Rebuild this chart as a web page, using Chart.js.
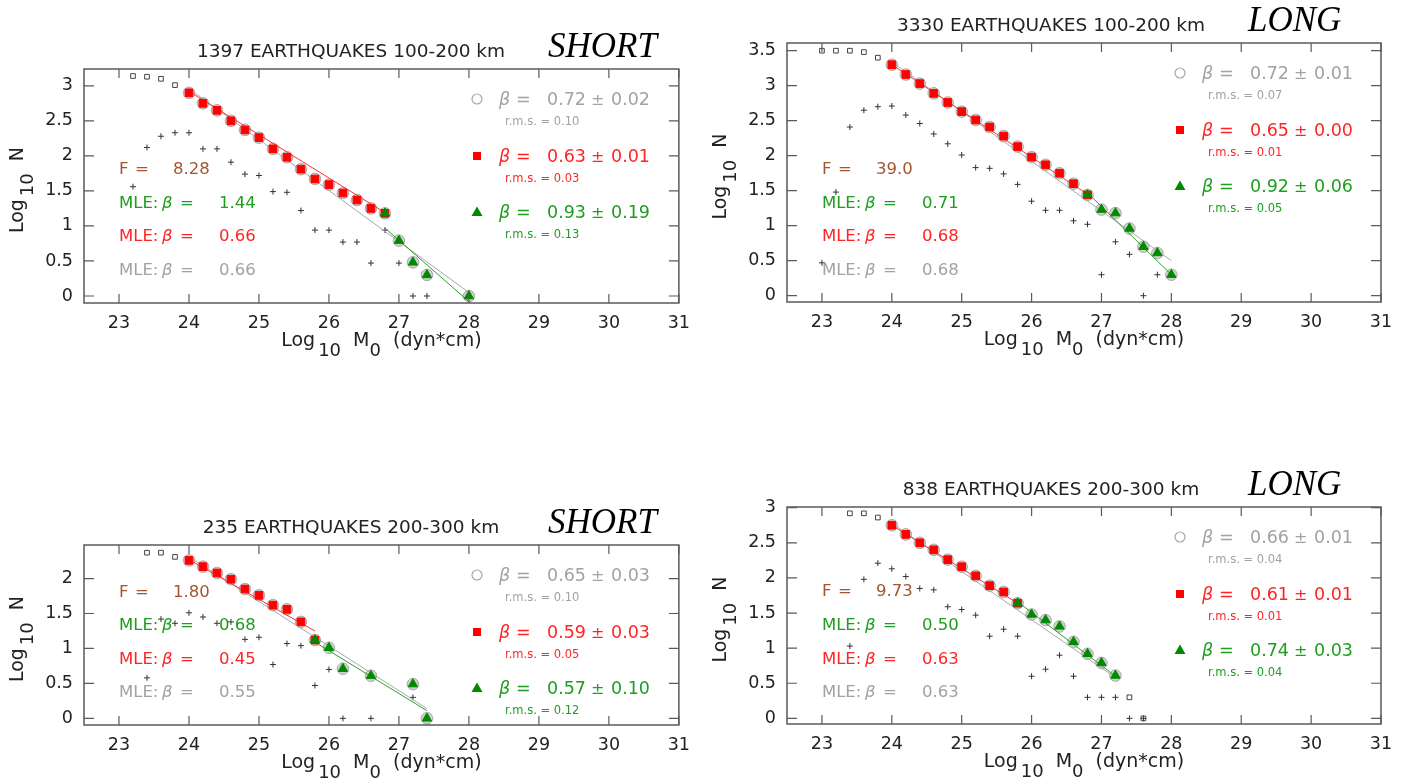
<!DOCTYPE html>
<html>
<head>
<meta charset="utf-8">
<script src="https://cdn.jsdelivr.net/npm/chart.js@4.4.1/dist/chart.umd.min.js"></script>
<style>
html, body { margin: 0; padding: 0; background: #fff; }
#wrap { position: relative; width: 1406px; height: 778px; overflow: hidden; }
#wrap canvas { position: absolute; }
</style>
</head>
<body>
<div id="wrap">
  <canvas id="p1" width="700" height="389" style="left:0;top:0"></canvas>
  <canvas id="p2" width="706" height="389" style="left:700px;top:0"></canvas>
  <canvas id="p3" width="700" height="389" style="left:0;top:389px"></canvas>
  <canvas id="p4" width="706" height="389" style="left:700px;top:389px"></canvas>
</div>
<script>
// ---- data ----
const xTicks = [23, 24, 25, 26, 27, 28, 29, 30, 31];

// 1397 earthquakes, 100-200 km, SHORT
const p1OpenX = [23.2, 23.4, 23.6, 23.8];
const p1OpenY = [3.14, 3.13, 3.10, 3.01];
const p1RedX = [24.0, 24.2, 24.4, 24.6, 24.8, 25.0, 25.2, 25.4, 25.6, 25.8, 26.0, 26.2, 26.4, 26.6, 26.8];
const p1RedY = [2.90, 2.75, 2.65, 2.50, 2.37, 2.26, 2.10, 1.98, 1.81, 1.67, 1.59, 1.47, 1.37, 1.25, 1.18];
const p1GreenX = [26.8, 27.0, 27.2, 27.4, 28.0];
const p1GreenY = [1.18, 0.79, 0.48, 0.30, 0.0];
const p1PlusX = [23.2, 23.4, 23.6, 23.8, 24.0, 24.2, 24.4, 24.6, 24.8, 25.0, 25.2, 25.4, 25.6, 25.8, 26.0, 26.2, 26.4, 26.6, 26.8, 27.0, 27.2, 27.4];
const p1PlusY = [1.56, 2.12, 2.28, 2.33, 2.33, 2.10, 2.10, 1.91, 1.74, 1.72, 1.49, 1.48, 1.22, 0.94, 0.94, 0.77, 0.77, 0.47, 0.94, 0.47, 0.0, 0.0];
const p1FitAllX = [24.0, 28.0], p1FitAllY = [2.96, 0.05];
const p1FitRedX = [24.0, 26.8], p1FitRedY = [2.92, 1.19];
const p1FitGreenX = [26.8, 28.0], p1FitGreenY = [0.97, -0.08];

// 3330 earthquakes, 100-200 km, LONG
const p2OpenX = [23.0, 23.2, 23.4, 23.6, 23.8];
const p2OpenY = [3.50, 3.50, 3.50, 3.48, 3.40];
const p2RedX = [24.0, 24.2, 24.4, 24.6, 24.8, 25.0, 25.2, 25.4, 25.6, 25.8, 26.0, 26.2, 26.4, 26.6, 26.8];
const p2RedY = [3.30, 3.16, 3.03, 2.89, 2.76, 2.63, 2.51, 2.41, 2.28, 2.13, 1.98, 1.87, 1.75, 1.60, 1.44];
const p2GreenX = [26.8, 27.0, 27.2, 27.4, 27.6, 27.8, 28.0];
const p2GreenY = [1.44, 1.23, 1.18, 0.96, 0.70, 0.61, 0.30];
const p2PlusX = [23.0, 23.2, 23.4, 23.6, 23.8, 24.0, 24.2, 24.4, 24.6, 24.8, 25.0, 25.2, 25.4, 25.6, 25.8, 26.0, 26.2, 26.4, 26.6, 26.8, 27.0, 27.2, 27.4, 27.6, 27.8];
const p2PlusY = [0.47, 1.48, 2.41, 2.65, 2.70, 2.71, 2.58, 2.46, 2.31, 2.17, 2.01, 1.83, 1.82, 1.74, 1.59, 1.35, 1.22, 1.22, 1.07, 1.02, 0.30, 0.77, 0.59, 0.0, 0.30];
const p2FitAllX = [24.0, 28.0], p2FitAllY = [3.34, 0.50];
const p2FitRedX = [24.0, 26.8], p2FitRedY = [3.30, 1.45];
const p2FitGreenX = [26.8, 28.0], p2FitGreenY = [1.47, 0.30];

// 235 earthquakes, 200-300 km, SHORT
const p3OpenX = [23.4, 23.6, 23.8];
const p3OpenY = [2.37, 2.37, 2.31];
const p3RedX = [24.0, 24.2, 24.4, 24.6, 24.8, 25.0, 25.2, 25.4, 25.6, 25.8];
const p3RedY = [2.26, 2.17, 2.08, 1.99, 1.85, 1.76, 1.62, 1.56, 1.38, 1.12];
const p3GreenX = [25.8, 26.0, 26.2, 26.6, 27.2, 27.4];
const p3GreenY = [1.12, 1.01, 0.71, 0.61, 0.49, 0.0];
const p3PlusX = [23.4, 23.6, 23.8, 24.0, 24.2, 24.4, 24.6, 24.8, 25.0, 25.2, 25.4, 25.6, 25.8, 26.0, 26.2, 26.6, 27.2];
const p3PlusY = [0.58, 1.42, 1.36, 1.51, 1.45, 1.36, 1.38, 1.13, 1.16, 0.77, 1.07, 1.04, 0.47, 0.70, 0.0, 0.0, 0.30];
const p3FitAllX = [24.0, 27.4], p3FitAllY = [2.31, 0.14];
const p3FitRedX = [24.0, 25.8], p3FitRedY = [2.27, 1.25];
const p3FitGreenX = [25.8, 27.4], p3FitGreenY = [1.09, 0.11];

// 838 earthquakes, 200-300 km, LONG
const p4OpenX = [23.4, 23.6, 23.8, 27.4, 27.6];
const p4OpenY = [2.92, 2.92, 2.86, 0.30, 0.0];
const p4RedX = [24.0, 24.2, 24.4, 24.6, 24.8, 25.0, 25.2, 25.4, 25.6, 25.8];
const p4RedY = [2.75, 2.62, 2.50, 2.40, 2.26, 2.16, 2.03, 1.89, 1.80, 1.64];
const p4GreenX = [25.8, 26.0, 26.2, 26.4, 26.6, 26.8, 27.0, 27.2];
const p4GreenY = [1.64, 1.48, 1.40, 1.31, 1.09, 0.92, 0.79, 0.61];
const p4PlusX = [23.4, 23.6, 23.8, 24.0, 24.2, 24.4, 24.6, 24.8, 25.0, 25.2, 25.4, 25.6, 25.8, 26.0, 26.2, 26.4, 26.6, 26.8, 27.0, 27.2, 27.4, 27.6];
const p4PlusY = [1.03, 1.98, 2.21, 2.13, 2.02, 1.85, 1.83, 1.59, 1.55, 1.47, 1.17, 1.27, 1.17, 0.60, 0.70, 0.90, 0.60, 0.30, 0.30, 0.30, 0.0, 0.0];
const p4FitAllX = [24.0, 27.2], p4FitAllY = [2.78, 0.58];
const p4FitRedX = [24.0, 25.8], p4FitRedY = [2.75, 1.64];
const p4FitGreenX = [25.8, 27.2], p4FitGreenY = [1.66, 0.60];

// texts
const titles = ['1397 EARTHQUAKES 100-200 km', '3330 EARTHQUAKES 100-200 km', '235 EARTHQUAKES 200-300 km', '838 EARTHQUAKES 200-300 km'];
const tags = ['SHORT', 'LONG', 'SHORT', 'LONG'];
const fValues = ['8.28', '39.0', '1.80', '9.73'];
const mleGreen = ['1.44', '0.71', '0.68', '0.50'];
const mleRed = ['0.66', '0.68', '0.45', '0.63'];
const mleGrey = ['0.66', '0.68', '0.55', '0.63'];
const betaGrey = [['0.72', '0.02', '0.10'], ['0.72', '0.01', '0.07'], ['0.65', '0.03', '0.10'], ['0.66', '0.01', '0.04']];
const betaRed = [['0.63', '0.01', '0.03'], ['0.65', '0.00', '0.01'], ['0.59', '0.03', '0.05'], ['0.61', '0.01', '0.01']];
const betaGreen = [['0.93', '0.19', '0.13'], ['0.92', '0.06', '0.05'], ['0.57', '0.10', '0.12'], ['0.74', '0.03', '0.04']];

// ---- drawing ----
const FONT = '"DejaVu Sans", "Liberation Sans", sans-serif';
const C_GREY = '#a2a2a2', C_RED = '#ff2424', C_GREEN = '#1e9e1e', C_BROWN = '#a4552e';
const zip = (xs, ys) => xs.map((x, i) => ({ x: x, y: ys[i] }));

function runs(ctx, x, y, parts) {
  parts.forEach(p => {
    ctx.font = p.f;
    ctx.fillStyle = p.c;
    ctx.fillText(p.t, x + p.dx, y + (p.dy || 0));
  });
}

function symbol(ctx, kind, x, y) {
  ctx.save();
  ctx.beginPath();
  if (kind === 'circle') {
    ctx.arc(x, y, 5, 0, Math.PI * 2);
    ctx.strokeStyle = '#a8a8a8';
    ctx.lineWidth = 1.2;
    ctx.stroke();
  } else if (kind === 'square') {
    ctx.fillStyle = '#ff0000';
    ctx.fillRect(x - 4, y - 4, 8, 8);
  } else {
    ctx.moveTo(x, y - 5.5);
    ctx.lineTo(x + 5.5, y + 4);
    ctx.lineTo(x - 5.5, y + 4);
    ctx.closePath();
    ctx.fillStyle = '#008a00';
    ctx.fill();
  }
  ctx.restore();
}

const quakePlugin = {
  id: 'quake',
  afterDraw(chart, args, o) {
    const ctx = chart.ctx;
    const a = chart.chartArea;
    const xs = chart.scales.x, ys = chart.scales.y;
    ctx.save();

    // frame with inward ticks on all four sides
    ctx.strokeStyle = '#5a5a5a';
    ctx.lineWidth = 1.5;
    ctx.strokeRect(a.left, a.top, a.right - a.left, a.bottom - a.top);
    ctx.lineWidth = 1.2;
    ctx.beginPath();
    xs.ticks.forEach(t => {
      const px = xs.getPixelForValue(t.value);
      ctx.moveTo(px, a.bottom); ctx.lineTo(px, a.bottom - 9);
      ctx.moveTo(px, a.top); ctx.lineTo(px, a.top + 9);
    });
    ys.ticks.forEach(t => {
      const py = ys.getPixelForValue(t.value);
      ctx.moveTo(a.left, py); ctx.lineTo(a.left + 10, py);
      ctx.moveTo(a.right, py); ctx.lineTo(a.right - 10, py);
    });
    ctx.stroke();

    ctx.textBaseline = 'alphabetic';
    // title and tag
    ctx.textAlign = 'center';
    ctx.font = '18.5px ' + FONT;
    ctx.fillStyle = '#222';
    ctx.fillText(o.title, 351, a.top - 12);
    ctx.textAlign = 'left';
    ctx.font = 'italic 35px "Liberation Serif", "DejaVu Serif", serif';
    ctx.fillStyle = '#000';
    ctx.fillText(o.tag, 548, a.top - 12);

    // x axis title
    const f18 = '19px ' + FONT, f16 = '18px ' + FONT;
    ctx.font = f18; const wLog = ctx.measureText('Log').width;
    const wM = ctx.measureText('  M').width, wRest = ctx.measureText('  (dyn*cm)').width;
    ctx.font = f16; const w10 = ctx.measureText('10').width, w0 = ctx.measureText('0').width;
    const total = wLog + 3 + w10 + wM + w0 + wRest;
    const x0 = (a.left + a.right) / 2 - total / 2, yb = a.bottom + 43;
    runs(ctx, x0, yb, [
      { t: 'Log', dx: 0, f: f18, c: '#222' },
      { t: '10', dx: wLog + 3, dy: 10, f: f16, c: '#222' },
      { t: '  M', dx: wLog + 3 + w10, f: f18, c: '#222' },
      { t: '0', dx: wLog + 3 + w10 + wM, dy: 10, f: f16, c: '#222' },
      { t: '  (dyn*cm)', dx: wLog + 3 + w10 + wM + w0, f: f18, c: '#222' }
    ]);

    // y axis title, rotated
    ctx.save();
    ctx.translate(a.left - 61, (a.top + a.bottom) / 2 + 4);
    ctx.rotate(-Math.PI / 2);
    ctx.font = f18; const wN = ctx.measureText('  N').width;
    const ty = wLog + 3 + w10 + wN;
    runs(ctx, -ty / 2, 0, [
      { t: 'Log', dx: 0, f: f18, c: '#222' },
      { t: '10', dx: wLog + 3, dy: 10, f: f16, c: '#222' },
      { t: '  N', dx: wLog + 3 + w10, f: f18, c: '#222' }
    ]);
    ctx.restore();

    // F and MLE annotations, anchored in data units
    const fn = '16.5px ' + FONT, fi = 'italic 16.5px ' + FONT;
    const ax = xs.getPixelForValue(23.0);
    runs(ctx, ax, ys.getPixelForValue(1.74), [
      { t: 'F', dx: 0, f: fn, c: C_BROWN }, { t: '=', dx: 16, f: fn, c: C_BROWN }, { t: o.f, dx: 54, f: fn, c: C_BROWN }
    ]);
    [[o.mle[0], C_GREEN, 1.26], [o.mle[1], C_RED, 0.78], [o.mle[2], C_GREY, 0.30]].forEach(m => {
      runs(ctx, ax, ys.getPixelForValue(m[2]), [
        { t: 'MLE:', dx: 0, f: fn, c: m[1] }, { t: '\u03B2', dx: 43, f: fi, c: m[1] },
        { t: '=', dx: 61, f: fn, c: m[1] }, { t: m[0], dx: 100, f: fn, c: m[1] }
      ]);
    });

    // legend on the right
    const sx = a.left + 393;
    const rows = [['circle', C_GREY, o.lg[0], 36], ['square', C_RED, o.lg[1], 93], ['triangle', C_GREEN, o.lg[2], 149]];
    rows.forEach(r => {
      const by = a.top + r[3];
      symbol(ctx, r[0], sx, by - 6);
      runs(ctx, sx, by, [
        { t: '\u03B2', dx: 22, f: 'italic 17.5px ' + FONT, c: r[1] }, { t: '=', dx: 39, f: '17.5px ' + FONT, c: r[1] },
        { t: r[2][0], dx: 70, f: '17.5px ' + FONT, c: r[1] }, { t: '\u00B1', dx: 114, f: '16px ' + FONT, c: r[1] },
        { t: r[2][1], dx: 134, f: '17.5px ' + FONT, c: r[1] }
      ]);
      runs(ctx, sx, by + 20, [{ t: 'r.m.s. = ' + r[2][2], dx: 28, f: '11.5px ' + FONT, c: r[1] }]);
    });
    ctx.restore();
  }
};

function panel(id, area, yMin, yMax, yTicks, s, idx) {
  const cv = document.getElementById(id);
  const W = cv.width, H = cv.height;
  const circles = zip(s.redX, s.redY).concat(zip(s.greenX, s.greenY).slice(1));
  const line = (xs, ys, c) => ({ data: zip(xs, ys), showLine: true, pointRadius: 0, borderColor: c, borderWidth: 1, fill: false });
  return new Chart(cv, {
    type: 'scatter',
    data: {
      datasets: [
        { data: zip(s.greenX, s.greenY), pointStyle: 'triangle', pointRadius: 5.4, backgroundColor: '#008a00', borderColor: '#008a00', borderWidth: 1 },
        { data: zip(s.redX, s.redY), pointStyle: 'rect', pointRadius: 5.4, backgroundColor: '#ff0000', borderColor: '#ff0000', borderWidth: 1 },
        line(s.fitRedX, s.fitRedY, '#ff3030'),
        line(s.fitGreenX, s.fitGreenY, '#2aa02a'),
        line(s.fitAllX, s.fitAllY, '#a8a8a8'),
        { data: circles, pointStyle: 'circle', pointRadius: 5.8, backgroundColor: '#cfcfcf', borderColor: '#a9a9a9', borderWidth: 1 },
        { data: zip(s.plusX, s.plusY), pointStyle: 'cross', pointRadius: 3, borderColor: '#333', borderWidth: 1 },
        { data: zip(s.openX, s.openY), pointStyle: 'rect', pointRadius: 3.3, backgroundColor: '#fff', borderColor: '#444', borderWidth: 1 }
      ]
    },
    options: {
      responsive: false,
      animation: false,
      events: [],
      layout: { padding: { left: 0, top: area.t, right: W - area.r, bottom: 0 } },
      plugins: {
        legend: { display: false },
        tooltip: { enabled: false },
        quake: {
          title: titles[idx], tag: tags[idx], f: fValues[idx],
          mle: [mleGreen[idx], mleRed[idx], mleGrey[idx]],
          lg: [betaGrey[idx], betaRed[idx], betaGreen[idx]]
        }
      },
      scales: {
        x: {
          type: 'linear', min: 22.5, max: 31,
          afterBuildTicks: sc => { sc.ticks = xTicks.map(v => ({ value: v })); },
          afterFit: sc => { sc.height = H - area.b; },
          grid: { display: false, drawTicks: false },
          border: { display: false },
          ticks: { color: '#222', font: { family: FONT, size: 17.5 }, padding: 10, maxRotation: 0, autoSkip: false, callback: v => String(v) }
        },
        y: {
          type: 'linear', min: yMin, max: yMax,
          afterBuildTicks: sc => { sc.ticks = yTicks.map(v => ({ value: v })); },
          afterFit: sc => { sc.width = area.l; },
          grid: { display: false, drawTicks: false },
          border: { display: false },
          ticks: { color: '#222', font: { family: FONT, size: 17.5 }, padding: 11, autoSkip: false, callback: v => String(v) }
        }
      }
    },
    plugins: [quakePlugin]
  });
}

panel('p1', { l: 84, r: 682, t: 69, b: 303 }, -0.10, 3.24, [0, 0.5, 1, 1.5, 2, 2.5, 3], {
  openX: p1OpenX, openY: p1OpenY, redX: p1RedX, redY: p1RedY, greenX: p1GreenX, greenY: p1GreenY,
  plusX: p1PlusX, plusY: p1PlusY, fitAllX: p1FitAllX, fitAllY: p1FitAllY,
  fitRedX: p1FitRedX, fitRedY: p1FitRedY, fitGreenX: p1FitGreenX, fitGreenY: p1FitGreenY
}, 0);
panel('p2', { l: 87, r: 681, t: 43, b: 302 }, -0.09, 3.61, [0, 0.5, 1, 1.5, 2, 2.5, 3, 3.5], {
  openX: p2OpenX, openY: p2OpenY, redX: p2RedX, redY: p2RedY, greenX: p2GreenX, greenY: p2GreenY,
  plusX: p2PlusX, plusY: p2PlusY, fitAllX: p2FitAllX, fitAllY: p2FitAllY,
  fitRedX: p2FitRedX, fitRedY: p2FitRedY, fitGreenX: p2FitGreenX, fitGreenY: p2FitGreenY
}, 1);
panel('p3', { l: 84, r: 682, t: 156, b: 336 }, -0.095, 2.48, [0, 0.5, 1, 1.5, 2], {
  openX: p3OpenX, openY: p3OpenY, redX: p3RedX, redY: p3RedY, greenX: p3GreenX, greenY: p3GreenY,
  plusX: p3PlusX, plusY: p3PlusY, fitAllX: p3FitAllX, fitAllY: p3FitAllY,
  fitRedX: p3FitRedX, fitRedY: p3FitRedY, fitGreenX: p3FitGreenX, fitGreenY: p3FitGreenY
}, 2);
panel('p4', { l: 87, r: 681, t: 118, b: 335 }, -0.08, 3.01, [0, 0.5, 1, 1.5, 2, 2.5, 3], {
  openX: p4OpenX, openY: p4OpenY, redX: p4RedX, redY: p4RedY, greenX: p4GreenX, greenY: p4GreenY,
  plusX: p4PlusX, plusY: p4PlusY, fitAllX: p4FitAllX, fitAllY: p4FitAllY,
  fitRedX: p4FitRedX, fitRedY: p4FitRedY, fitGreenX: p4FitGreenX, fitGreenY: p4FitGreenY
}, 3);
</script>
</body>
</html>
